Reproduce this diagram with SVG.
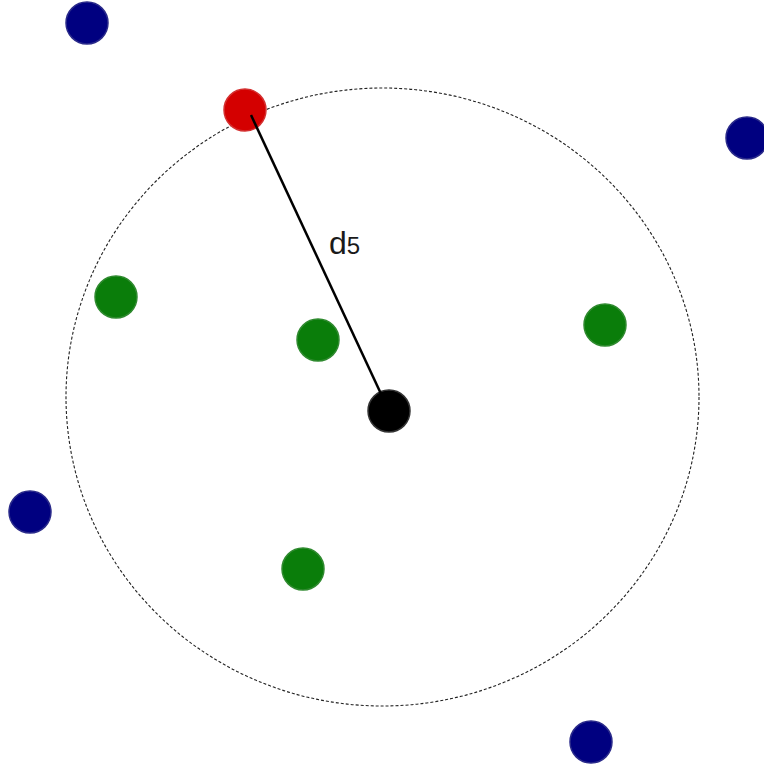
<svg xmlns="http://www.w3.org/2000/svg" width="764" height="769" viewBox="0 0 764 769">
<style>
.n{stroke-width:1.5}
.blue{fill:#000080;stroke:#2a2a8a}
.green{fill:#0a7d0a;stroke:#2f8a2f}
.red{fill:#d40000;stroke:#d43030}
.black{fill:#000;stroke:#333}
.lbl{font-family:"Liberation Sans",Arial,sans-serif;fill:#1a1a1a}
</style>
<rect width="764" height="769" fill="#fff"/>
<g id="range">
<ellipse cx="382.5" cy="397" rx="316.5" ry="309" fill="none" stroke="#222" stroke-width="1.1" stroke-dasharray="3,2"/>
</g>
<g id="b1"><circle class="n blue" cx="87" cy="23" r="21"/></g>
<g id="b2"><circle class="n blue" cx="747" cy="138" r="21"/></g>
<g id="b3"><circle class="n blue" cx="30" cy="512" r="21"/></g>
<g id="b4"><circle class="n blue" cx="591" cy="742" r="21"/></g>
<g id="g1"><circle class="n green" cx="116" cy="297" r="21"/></g>
<g id="g2"><circle class="n green" cx="318" cy="340" r="21"/></g>
<g id="g3"><circle class="n green" cx="605" cy="325" r="21"/></g>
<g id="g4"><circle class="n green" cx="303" cy="569" r="21"/></g>
<g id="red"><circle class="n red" cx="245" cy="110" r="21"/></g>
<g id="center"><circle class="n black" cx="389" cy="411" r="21"/></g>
<g id="connectors">
<line x1="251" y1="115" x2="389" y2="411" stroke="#000" stroke-width="2.5"/>
<text class="lbl" x="329" y="254" font-size="32">d<tspan font-size="24">5</tspan></text>
</g>
</svg>
